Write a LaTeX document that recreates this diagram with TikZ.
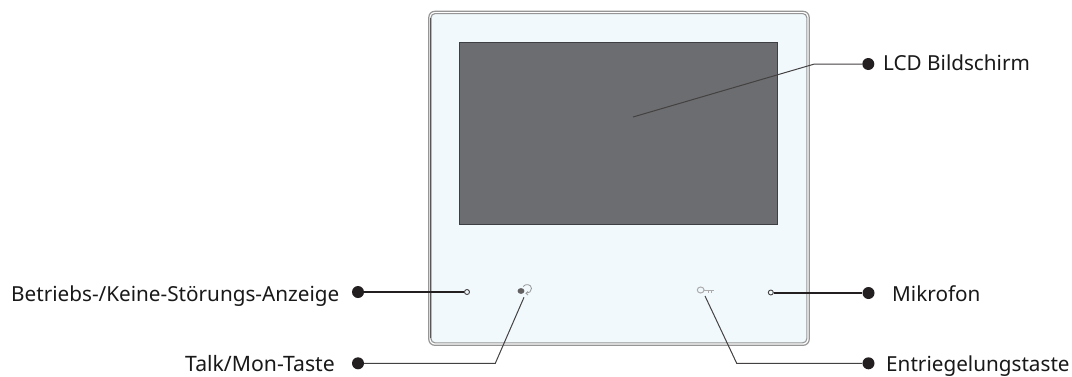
\documentclass[tikz,border=0pt]{standalone}
\usepackage{fontspec}
\setmainfont{Noto Sans}
\definecolor{panelfill}{RGB}{241,249,253}
\definecolor{screenfill}{RGB}{108,109,112}
\definecolor{screenedge}{RGB}{62,63,66}
\definecolor{dotcol}{RGB}{35,31,32}
\definecolor{rimcol}{RGB}{150,150,150}
\definecolor{iconcol}{RGB}{150,150,150}
\tikzset{
  x=1pt,y=-1pt,
  lbl/.style={inner sep=0pt,font=\fontsize{20.7}{24}\selectfont,text=black!90,anchor=base west},
  enddot/.style={circle,fill=dotcol,inner sep=0pt,minimum size=12pt},
  thickline/.style={draw=dotcol,line width=1.7pt},
  thinline/.style={draw=dotcol!85,line width=1pt},
  hole/.style={circle,draw=dotcol!85,fill=panelfill,line width=0.9pt,inner sep=0pt,minimum size=5pt}
}
\begin{document}
\begin{tikzpicture}
\useasboundingbox (0,0) rectangle (1072,376);
\fill[white] (0,0) rectangle (1072,376);
% housing
\draw[rimcol,line width=1.2pt,fill=white,rounded corners=6pt] (428.8,11.3) rectangle (809.2,345.3);
\draw[rimcol,line width=1.1pt,fill=panelfill,rounded corners=4pt] (431,13.6) rectangle (806.8,342.8);
\draw[dotcol!75,line width=0.7pt] (430.8,18) -- (430.8,338);
% screen
\draw[screenedge,fill=screenfill,line width=1pt] (459.8,42.5) rectangle (777.7,224.8);
% talk icon
\fill[iconcol!55!dotcol] (521,291) ellipse (3.4 and 2.9);
\draw[iconcol,line width=0.8pt] (523.2,286.5) .. controls (525,283.5) and (531.5,284) .. (531.5,288.5) .. controls (531.5,291.5) and (529,293.3) .. (526,293.3);
\draw[iconcol,line width=0.8pt] (528,291.5) -- (526,293.3) -- (528,295);
% key icon
\draw[iconcol!80,line width=1pt] (700.7,290) ellipse (3.4 and 3);
\draw[iconcol!80,line width=1pt] (704,290) -- (714,290) (708,290) -- (708,292.5) (711,290) -- (711,292.5);
% holes and anchors
\node[hole] (hl) at (467,292) {};
\node[hole] (hr) at (770.8,292.5) {};
\coordinate (lcdtip) at (633,117);
\coordinate (lcdk) at (814.5,64);
\coordinate (talktip) at (524,297.3);
\coordinate (talkk) at (495.3,363.3);
\coordinate (keytip) at (705,296);
\coordinate (keyk) at (736.7,363.3);
% dots
\node[enddot] (d1) at (868.3,64) {};
\node[enddot] (d2) at (358,292) {};
\node[enddot] (d3) at (868.5,293) {};
\node[enddot] (d4) at (358,363.3) {};
\node[enddot] (d5) at (868.5,363.3) {};
% connectors
\draw[thinline] (lcdtip) -- (lcdk) -- (d1);
\draw[thickline] (d2) -- (hl);
\draw[thickline] (hr.east |- d3) -- (d3);
\draw[thinline] (d4) -- (talkk) -- (talktip);
\draw[thinline] (keytip) -- (keyk) -- (d5);
% labels
\node[lbl] (t1) at (883,70.7) {LCD Bildschirm};
\node[lbl] (t2) at (11,301) {Betriebs-/Keine-Störungs-Anzeige};
\node[lbl] (t3) at (892,301.3) {Mikrofon};
\node[lbl,font=\fontsize{21.2}{24}\selectfont] (t4) at (185,371) {Talk/Mon-Taste};
\node[lbl] (t5) at (886,371) {Entriegelungstaste};
\end{tikzpicture}
\end{document}
